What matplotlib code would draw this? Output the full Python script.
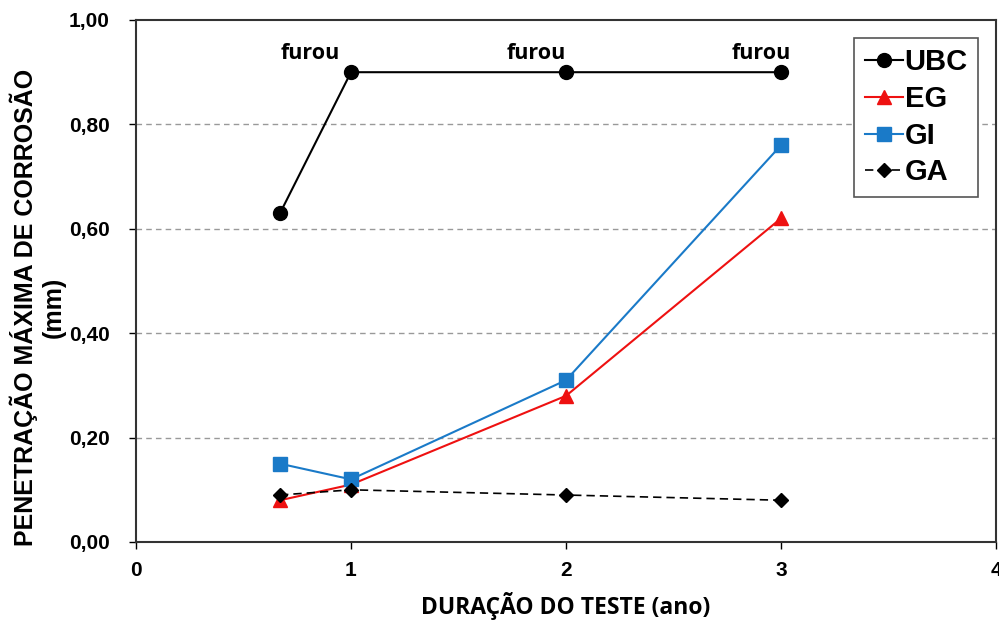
import matplotlib
matplotlib.use("Agg")
import matplotlib.pyplot as plt
from matplotlib.ticker import FuncFormatter

x = [0.67, 1, 2, 3]
ubc = [0.63, 0.90, 0.90, 0.90]
eg = [0.08, 0.11, 0.28, 0.62]
gi = [0.15, 0.12, 0.31, 0.76]
ga = [0.09, 0.10, 0.09, 0.08]
furou_x = [0.81, 1.86, 2.91]
furou_y = [0.925, 0.925, 0.925]

fig = plt.figure(figsize=(9.99, 6.2), dpi=100)
ax = fig.add_axes([136/999, 1-542/620, 860/999, 522/620])

ax.plot(x, ubc, color="black", marker="o", markersize=10, lw=1.5, label="UBC")
ax.plot(x, eg, color="#ee1111", marker="^", markersize=10.5, lw=1.5, label="EG")
ax.plot(x, gi, color="#1a7ac8", marker="s", markersize=10.5, lw=1.5, label="GI")
ax.plot(x, ga, color="black", marker="D", markersize=7, lw=1.2, ls=(0, (5, 3)), label="GA")

for fx, fy in zip(furou_x, furou_y):
    ax.text(fx, fy, "furou", ha="center", va="baseline", fontsize=15.5, fontweight="bold",
            family="Open Sans")

ax.set_xlim(0, 4)
ax.set_ylim(0, 1.0)
ax.set_xticks([0, 1, 2, 3, 4])
ax.set_yticks([0, 0.2, 0.4, 0.6, 0.8, 1.0])
ax.yaxis.set_major_formatter(FuncFormatter(lambda v, p: f"{v:.2f}".replace(".", ",")))
for yv in [0.2, 0.4, 0.6, 0.8]:
    ax.axhline(yv, color="#999999", lw=1, ls=(0, (4, 3)), zorder=0)

ax.tick_params(direction="out", length=5, width=1, labelsize=15)
ax.tick_params(axis="x", pad=9)
ax.tick_params(axis="y", pad=14)
for lab in ax.get_xticklabels() + ax.get_yticklabels():
    lab.set_fontweight("bold")
    lab.set_family("Liberation Sans")
for s in ax.spines.values():
    s.set_color("#333333")
    s.set_linewidth(1.5)

ax.set_xlabel("DURAÇÃO DO TESTE (ano)", fontsize=16.5, fontweight="bold", family="Open Sans", labelpad=8)
ax.set_ylabel("PENETRAÇÃO MÁXIMA DE CORROSÃO\n(mm)", fontsize=18, fontweight="bold",
              family="Liberation Sans", linespacing=1.2)
ax.yaxis.set_label_coords(-0.082, 0.45)

leg = ax.legend(loc="upper right", bbox_to_anchor=(0.979, 0.9655), borderaxespad=0,
                prop={"family": "Liberation Sans", "weight": "bold", "size": 21},
                fancybox=False, edgecolor="#555555", handlelength=1.3, handletextpad=0.07,
                borderpad=0.35, labelspacing=0.3, framealpha=1)
leg.get_frame().set_linewidth(1.2)

fig.savefig("out.png", dpi=100)
